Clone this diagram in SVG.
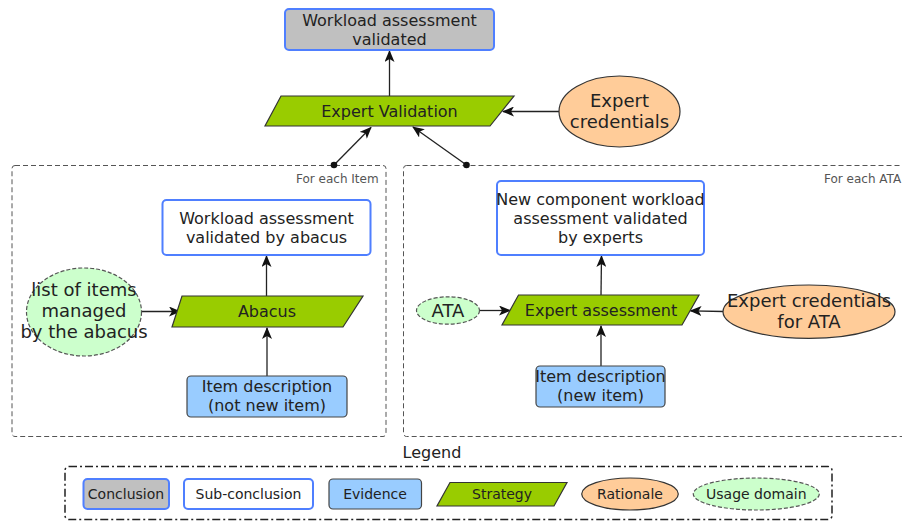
<svg xmlns="http://www.w3.org/2000/svg" width="902" height="522" viewBox="0 0 902 522">
<defs>
<style>
text{font-family:"DejaVu Sans","Liberation Sans",sans-serif;fill:#222;text-anchor:middle}
.t16{font-size:16px}
.t18{font-size:18px}
.t14{font-size:14px}
.lbl{font-size:12px;fill:#555;text-anchor:start}
.concl{fill:#c0c0c0;stroke:#4f7fff;stroke-width:2}
.sub{fill:#fff;stroke:#4f7fff;stroke-width:2}
.evid{fill:#99ccff;stroke:#444;stroke-width:1.2}
.strat{fill:#99cc00;stroke:#333;stroke-width:1.2}
.rat{fill:#ffcc99;stroke:#333;stroke-width:1.2}
.dom{fill:#ccffcc;stroke:#555;stroke-width:1.2;stroke-dasharray:4,2}
.grp{fill:none;stroke:#555;stroke-width:1;stroke-dasharray:5,3}
.leg{fill:none;stroke:#222;stroke-width:1.5;stroke-dasharray:8,3,2,3}
.edge{fill:none;stroke:#222;stroke-width:1.3;marker-end:url(#arr)}
</style>
<marker id="arr" viewBox="0 0 12 10" refX="11" refY="5" markerWidth="12" markerHeight="10" markerUnits="userSpaceOnUse" orient="auto">
<path d="M0,0 L12,5 L0,10 L3,5 Z" fill="#111"/>
</marker>
</defs>

<g id="group-item">
<rect class="grp" x="12" y="165.5" width="374" height="271" rx="3"/>
<text class="lbl" x="296" y="183">For each Item</text>
</g>
<g id="group-ata">
<rect class="grp" x="403.5" y="165.5" width="510" height="271" rx="3"/>
<text class="lbl" x="824" y="183">For each ATA</text>
</g>

<g id="connectors">
<line class="edge" x1="389.5" y1="96" x2="389.5" y2="51"/>
<line class="edge" x1="559" y1="111.5" x2="503" y2="111.5"/>
<line class="edge" x1="334" y1="165" x2="371" y2="127.5"/>
<line class="edge" x1="466.5" y1="165" x2="413" y2="127"/>
<circle cx="334" cy="165" r="3.3" fill="#111"/>
<circle cx="466.5" cy="165" r="3.3" fill="#111"/>
<line class="edge" x1="266.5" y1="296" x2="266.5" y2="256"/>
<line class="edge" x1="267" y1="376" x2="267" y2="328"/>
<line class="edge" x1="141.5" y1="311.5" x2="180" y2="311.5"/>
<line class="edge" x1="601" y1="295" x2="601.5" y2="256"/>
<line class="edge" x1="601" y1="366" x2="601" y2="326"/>
<line class="edge" x1="479.5" y1="310.5" x2="510" y2="310.5"/>
<line class="edge" x1="723.5" y1="311.5" x2="690.5" y2="310.8"/>
</g>

<g id="conclusion">
<rect class="concl" x="285" y="9" width="209" height="41" rx="4"/>
<text class="t16" x="389.5" y="25.5">Workload assessment</text>
<text class="t16" x="389.5" y="44.5">validated</text>
</g>
<g id="expert-validation">
<polygon class="strat" points="281,96 514,96 490,126 265,126"/>
<text class="t16" x="389.5" y="116.5">Expert Validation</text>
</g>
<g id="expert-credentials">
<ellipse class="rat" cx="619.5" cy="111.5" rx="60.5" ry="35.5"/>
<text class="t18" x="619.5" y="107">Expert</text>
<text class="t18" x="619.5" y="128">credentials</text>
</g>

<g id="abacus-subconclusion">
<rect class="sub" x="162.5" y="200" width="208" height="55" rx="4"/>
<text class="t16" x="266.5" y="223.5">Workload assessment</text>
<text class="t16" x="266.5" y="242.5">validated by abacus</text>
</g>
<g id="abacus">
<polygon class="strat" points="182,296 363,296 343,327 172,327"/>
<text class="t16" x="267" y="316.5">Abacus</text>
</g>
<g id="items-list">
<ellipse class="dom" cx="84" cy="312" rx="57.5" ry="44"/>
<text class="t18" x="84" y="296">list of items</text>
<text class="t18" x="84" y="317">managed</text>
<text class="t18" x="84" y="338">by the abacus</text>
</g>
<g id="item-not-new">
<rect class="evid" x="187" y="376" width="160" height="41" rx="4"/>
<text class="t16" x="267" y="392">Item description</text>
<text class="t16" x="267" y="411">(not new item)</text>
</g>

<g id="ata-subconclusion">
<rect class="sub" x="497" y="181" width="207" height="74" rx="4"/>
<text class="t16" x="600.5" y="205">New component workload</text>
<text class="t16" x="600.5" y="224">assessment validated</text>
<text class="t16" x="600.5" y="243">by experts</text>
</g>
<g id="expert-assessment">
<polygon class="strat" points="518.5,295 699,295 682,325 502,325"/>
<text class="t16" x="601" y="315.5">Expert assessment</text>
</g>
<g id="ata">
<ellipse class="dom" cx="448" cy="310.5" rx="31.5" ry="13.7"/>
<text class="t18" x="448" y="316.5">ATA</text>
</g>
<g id="expert-credentials-ata">
<ellipse class="rat" cx="809" cy="311.7" rx="86" ry="26.7"/>
<text class="t18" x="809" y="307">Expert credentials</text>
<text class="t18" x="809" y="328">for ATA</text>
</g>
<g id="item-new">
<rect class="evid" x="536" y="366" width="129" height="41" rx="4"/>
<text class="t16" x="600.5" y="382">Item description</text>
<text class="t16" x="600.5" y="401">(new item)</text>
</g>

<g id="legend">
<text class="t16" x="432" y="457.5">Legend</text>
<rect class="leg" x="65" y="466.5" width="767" height="53" rx="4"/>
<rect class="concl" x="83.5" y="479" width="85.5" height="30" rx="4" stroke-width="1.5"/>
<text class="t14" x="126" y="499">Conclusion</text>
<rect class="sub" x="184" y="479" width="129" height="30" rx="4" stroke-width="1.5"/>
<text class="t14" x="248.5" y="499">Sub-conclusion</text>
<rect class="evid" x="329" y="479" width="92.5" height="30" rx="4"/>
<text class="t14" x="375" y="499">Evidence</text>
<polygon class="strat" points="450,482.5 567,482.5 554,506 437,506"/>
<text class="t14" x="502" y="499">Strategy</text>
<ellipse class="rat" cx="630" cy="494" rx="48.3" ry="16"/>
<text class="t14" x="630" y="499">Rationale</text>
<ellipse class="dom" cx="756.3" cy="494" rx="63" ry="16"/>
<text class="t14" x="756.3" y="499">Usage domain</text>
</g>
</svg>
